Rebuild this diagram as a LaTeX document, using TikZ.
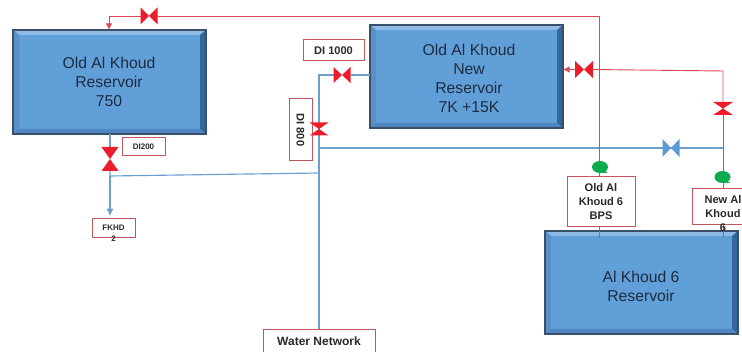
\documentclass[tikz,border=0pt]{standalone}
\usepackage{fontspec}
\setmainfont{Liberation Sans}
\usetikzlibrary{arrows.meta,calc}
\definecolor{resfill}{HTML}{619FD8}
\definecolor{resdark}{HTML}{3A5068}
\definecolor{bevtop}{HTML}{8DBBE6}
\definecolor{bevleft}{HTML}{5A90C8}
\definecolor{bevright}{HTML}{34679C}
\definecolor{bevbot}{HTML}{4E86C0}
\definecolor{boxred}{HTML}{C2565C}
\definecolor{linered}{HTML}{DB4A54}
\definecolor{valvered}{HTML}{EC1C2A}
\definecolor{pipeblue}{HTML}{6A9FCF}
\definecolor{valveblue}{HTML}{5B9BD8}
\definecolor{bubble}{HTML}{0CAB50}
\definecolor{txt}{HTML}{2A2A2A}
\definecolor{restxt}{HTML}{1E2C40}
\pgfdeclarelayer{front}
\pgfsetlayers{main,front}
\tikzset{
  reservoir/.style={draw=resdark,line width=1.5pt,fill=resfill,inner sep=0pt},
  restext/.style={inner sep=0pt,text=restxt,align=center,font=\fontsize{11.8}{14.2}\selectfont},
  labelbox/.style={draw=boxred,line width=0.75pt,fill=white,inner sep=0pt,text=txt,align=center,
    font=\bfseries\fontsize{8.3}{10.5}\selectfont},
  smalltext/.style={inner sep=0pt,text=txt,align=center,font=\bfseries\fontsize{6}{8}\selectfont},
  redpipe/.style={draw=linered,line width=0.7pt},
  bluepipe/.style={draw=pipeblue,line width=0.85pt},
  redtip/.style={-{Latex[length=5pt,width=5pt]}},
}
% horizontal-flow bow tie: name, position, half width, half height, colour
\newcommand{\bowh}[5]{%
  \coordinate (#1) at #2;
  \coordinate (#1w) at ($(#1)+(-#3,0)$);
  \coordinate (#1e) at ($(#1)+(#3,0)$);
  \begin{pgfonlayer}{front}
  \fill[#5] ($(#1)+(-#3,-#4)$) -- ($(#1)+(#3,#4)$) -- ($(#1)+(#3,-#4)$) -- ($(#1)+(-#3,#4)$) -- cycle;
  \end{pgfonlayer}}
% vertical-flow bow tie
\newcommand{\bowv}[5]{%
  \coordinate (#1) at #2;
  \coordinate (#1n) at ($(#1)+(0,-#4)$);
  \coordinate (#1s) at ($(#1)+(0,#4)$);
  \begin{pgfonlayer}{front}
  \fill[#5] ($(#1)+(-#3,-#4)$) -- ($(#1)+(#3,-#4)$) -- ($(#1)+(-#3,#4)$) -- ($(#1)+(#3,#4)$) -- cycle;
  \end{pgfonlayer}}
\newcommand{\bevel}[1]{%
  \fill[bevtop] (#1.north west) -- (#1.north east) -- ($(#1.north east)+(-6,5)$) -- ($(#1.north west)+(6,5)$) -- cycle;
  \fill[bevright] (#1.north east) -- (#1.south east) -- ($(#1.south east)+(-6,-5)$) -- ($(#1.north east)+(-6,5)$) -- cycle;
  \fill[bevbot] (#1.south west) -- (#1.south east) -- ($(#1.south east)+(-6,-5)$) -- ($(#1.south west)+(6,-5)$) -- cycle;
  \fill[bevleft] (#1.north west) -- (#1.south west) -- ($(#1.south west)+(6,-5)$) -- ($(#1.north west)+(6,5)$) -- cycle;
  \draw[resdark,line width=1.5pt] (#1.north west) rectangle (#1.south east);}
% speech-bubble dot
\newcommand{\greendot}[2]{%
  \coordinate (#1) at #2;
  \fill[bubble] (#1) ellipse [x radius=8,y radius=6];
  \fill[bubble] ($(#1)+(3,3)$) -- ($(#1)+(8,6)$) -- ($(#1)+(1,6)$) -- cycle;}
\begin{document}
\begin{tikzpicture}[x=0.75pt,y=-0.75pt]
\clip (0,0) rectangle (742,352);
\fill[white] (0,0) rectangle (742,352);
% reservoirs
\node[reservoir,minimum width=143.25pt,minimum height=76.5pt] (oldres) at (109.5,82) {};
\bevel{oldres}
\node[restext] (oldrestext) at (109,82) {Old Al Khoud\\Reservoir\\750};
\node[reservoir,minimum width=143.25pt,minimum height=75.75pt] (newres) at (466.5,76.5) {};
\bevel{newres}
\node[restext] (newrestext) at (469,78) {Old Al Khoud\\New\\Reservoir\\7K +15K};
\node[reservoir,minimum width=143.25pt,minimum height=75.75pt] (sixres) at (641.5,282.5) {};
\bevel{sixres}
\node[restext] (sixrestext) at (641,286) {Al Khoud 6\\Reservoir};
% label boxes
\node[labelbox,minimum width=51pt,minimum height=37.5pt] (oldbps) at (601,202) {Old Al\\Khoud 6\\BPS};
\node[labelbox,minimum width=46.5pt,minimum height=27pt] (newbox) at (723,207) {};
\node[labelbox,minimum width=45.75pt,minimum height=15.75pt] (di1000) at (333.5,50.5) {DI 1000};
\node[labelbox,minimum width=46.5pt,minimum height=17.25pt,rotate=-90] (di800) at (300.5,130) {DI 800};
\node[labelbox,minimum width=32.25pt,minimum height=13.5pt] (di200) at (143.5,147) {\fontsize{6}{8}\selectfont DI200};
\node[labelbox,minimum width=32.25pt,minimum height=14.25pt] (fkhd) at (113.5,228.5) {};
\node[labelbox,minimum width=84pt,minimum height=24pt] (water) at (319,346) {};
% valves
\bowh{vtop}{(149,16)}{8.5}{8.5}{valvered}
\bowh{vdiK}{(342,75)}{8.5}{8}{valvered}
\bowv{vdie}{(319,129)}{9.5}{6.5}{valvered}
\bowv{vdit}{(110,159)}{8.5}{12}{valvered}
\bowh{vnew}{(584,69.5)}{9}{8.5}{valvered}
\bowv{vright}{(723,108.5)}{10}{6.5}{valvered}
\bowh{vblue}{(671,148)}{8.5}{9}{valveblue}
% junctions
\coordinate (jtop) at (599,16);
\coordinate (jcorner) at (109,16);
\coordinate (jright) at (723,71);
\coordinate (jnw) at (319,75);
\coordinate (jtee) at (319,173);
\coordinate (jleft) at (110,176);
\coordinate (jstart) at (318,148);
\coordinate (jbl) at (723,148);
\coordinate (jarrow) at (110,216);
% blue pipes
\draw[bluepipe] (newres.west |- jnw) -- (vdiKe);
\draw[bluepipe] (vdiKw) -- (jnw) -- (water.north -| jnw);
\draw[bluepipe] (jstart) -- (vblue);
\draw[bluepipe] (vblue) -- (jbl);
\draw[bluepipe] (oldres.south -| vdit) -- (vditn);
\draw[bluepipe] (vdits) -- (jleft) -- (jtee);
\draw[bluepipe,-{Latex[length=5.5pt,width=5.5pt]}] (jleft) -- (jarrow);
% red pipes
\draw[redpipe] (oldbps.north -| jtop) -- (jtop) -- (vtope);
\draw[redpipe,redtip] (vtopw) -- (jcorner) -- (oldres.north -| jcorner);
\draw[redpipe] (oldbps.south -| jtop) -- ($(sixres.north -| jtop)+(0,7)$);
\draw[redpipe] (newbox.north -| jright) -- (vrights);
\draw[redpipe] (vrightn) -- (jright) -- (vnewe);
\draw[redpipe,redtip] (vneww) -- (newres.east |- vnew);
\draw[redpipe] (newbox.south -| jright) -- ($(sixres.north -| jright)+(0,7)$);
% text in label boxes that overruns
\node[smalltext] (fkhdtext) at (113.5,228) {FKHD};
\node[smalltext] (fkhdtwo) at (113.5,239) {2};
\node[inner sep=0pt,text=txt,align=center,font=\bfseries\fontsize{8.3}{10.5}\selectfont] (newtext) at (723,213.5) {New Al\\Khoud\\6};
\node[inner sep=0pt,text=txt,font=\bfseries\fontsize{9}{11}\selectfont] (watertext) at (319,341) {Water Network};
% green bubbles
\greendot{gone}{(600,167)}
\greendot{gtwo}{(722.5,177)}
\end{tikzpicture}
\end{document}
